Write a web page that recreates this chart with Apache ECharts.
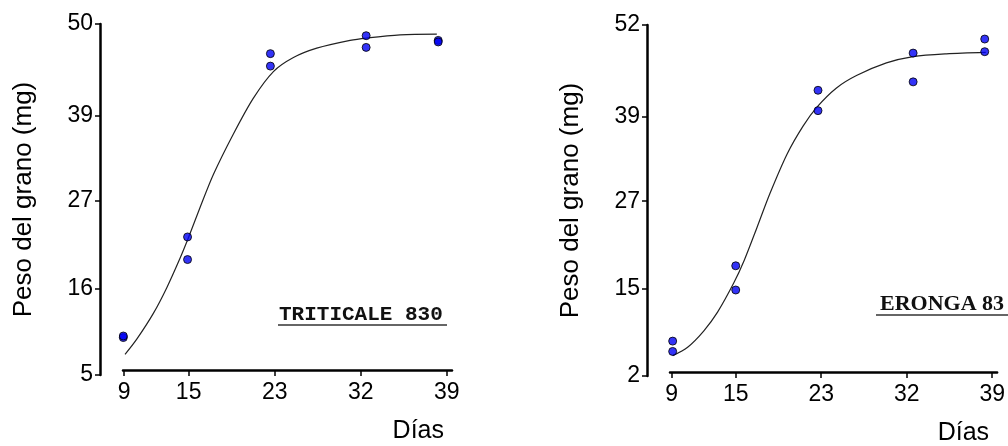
<!DOCTYPE html>
<html>
<head>
<meta charset="utf-8">
<script src="https://cdn.jsdelivr.net/npm/echarts@6/dist/echarts.min.js"></script>
<style>
html,body{margin:0;padding:0;background:#fff;}
#chart{width:1008px;height:446px;}
</style>
</head>
<body>
<div id="chart"></div>
<script>
// ---- data ----
const xTickValues = [9, 15, 23, 31, 39];
const xTickLabels = ['9', '15', '23', '32', '39'];

const tritYTickValues = [5, 16.1, 27.4, 38.2, 50];
const tritYTickLabels = ['5', '16', '27', '39', '50'];
const eronYTickValues = [2, 14.4, 26.9, 38.9, 52];
const eronYTickLabels = ['2', '15', '27', '39', '52'];

const tritDays = [8.93, 8.93, 14.9, 14.9, 22.6, 22.6, 31.5, 31.5, 38.2, 38.2];
const tritWeights = [9.8, 10.0, 22.7, 19.8, 46.2, 44.6, 48.5, 47.0, 47.9, 47.7];
const tritCurveDays = [9.09, 10.18, 11.72, 12.97, 14.21, 14.98, 16.07, 17.3, 19.16, 21.02, 22.88, 24.74, 26.91, 30.01, 31.56, 34.66, 38.07];
const tritCurveWeights = [7.65, 9.6, 12.9, 16.2, 20.0, 22.6, 26.5, 30.7, 35.9, 40.5, 43.9, 45.7, 46.9, 47.9, 48.2, 48.6, 48.7];

const eronDays = [9.1, 9.1, 15.0, 15.0, 22.7, 22.7, 31.6, 31.6, 38.3, 38.3];
const eronWeights = [6.97, 5.5, 17.7, 14.25, 42.7, 39.8, 48.0, 43.9, 50.0, 48.2];
const eronCurveDays = [9.1, 10.5, 12.0, 13.3, 14.8, 15.8, 17.0, 18.2, 19.8, 21.3, 22.6, 24.4, 26.3, 29.1, 31.6, 34.7, 38.4];
const eronCurveWeights = [4.9, 6.1, 8.4, 11.1, 15.2, 18.5, 23.2, 28.0, 33.6, 37.6, 40.3, 43.0, 44.8, 46.6, 47.5, 47.9, 48.1];

const yName = 'Peso del grano (mg)';
const xName = 'Días';
const labelTrit = 'TRITICALE 830';
const labelEron = 'ERONGA 83';

// ---- chart ----
const zip = (a, b) => a.map((v, i) => [v, b[i]]);
const labelFont = 'Liberation Sans, Arial, sans-serif';

function xAxisDef(gridIndex, min, max, offset) {
  return {
    type: 'value', gridIndex, min, max, offset,
    name: xName, nameLocation: 'end', nameGap: -8,
    nameTextStyle: {fontFamily: labelFont, fontSize: 25, color: '#000', align: 'right', verticalAlign: 'top', padding: [49, 0, 0, 0]},
    splitLine: {show: false},
    axisLine: {show: true, onZero: false, lineStyle: {color: '#000', width: 2.5}},
    axisTick: {show: true, customValues: xTickValues, length: 6, lineStyle: {color: '#000', width: 1.5}},
    axisLabel: {customValues: xTickValues, margin: 11, fontFamily: labelFont, fontSize: 23, color: '#000',
      formatter: v => xTickLabels[xTickValues.indexOf(v)]}
  };
}
function yAxisDef(gridIndex, min, max, tv, tl) {
  return {
    type: 'value', gridIndex, min, max, offset: 23,
    name: yName, nameLocation: 'middle', nameGap: 63,
    nameTextStyle: {fontFamily: labelFont, fontSize: 26, color: '#000'},
    splitLine: {show: false},
    axisLine: {show: true, onZero: false, lineStyle: {color: '#000', width: 2.5}},
    axisTick: {show: true, customValues: tv, length: 5, lineStyle: {color: '#000', width: 1.5}},
    axisLabel: {customValues: tv, margin: 7, fontFamily: labelFont, fontSize: 23, color: '#000',
      formatter: v => tl[tv.indexOf(v)]}
  };
}
const pointStyle = {color: '#0000f5', borderColor: '#000', borderWidth: 1};
const curveStyle = {color: '#222', width: 1.2};

const chart = echarts.init(document.getElementById('chart'), null, {renderer: 'canvas'});
chart.setOption({
  animation: false,
  backgroundColor: '#fff',
  grid: [
    {left: 123, top: 24, width: 329, height: 351},
    {left: 670, top: 25, width: 329, height: 352}
  ],
  xAxis: [
    xAxisDef(0, 8.9, 39.48, -5),
    xAxisDef(1, 8.85, 39.46, -4)
  ],
  yAxis: [
    yAxisDef(0, 5, 50, tritYTickValues, tritYTickLabels),
    yAxisDef(1, 2, 52, eronYTickValues, eronYTickLabels)
  ],
  series: [
    {type: 'line', xAxisIndex: 0, yAxisIndex: 0, data: zip(tritCurveDays, tritCurveWeights), smooth: 0.3, showSymbol: false, lineStyle: curveStyle, z: 2},
    {type: 'scatter', xAxisIndex: 0, yAxisIndex: 0, data: zip(tritDays, tritWeights), symbolSize: 8, itemStyle: pointStyle, z: 3},
    {type: 'line', xAxisIndex: 1, yAxisIndex: 1, data: zip(eronCurveDays, eronCurveWeights), smooth: 0.3, showSymbol: false, lineStyle: curveStyle, z: 2},
    {type: 'scatter', xAxisIndex: 1, yAxisIndex: 1, data: zip(eronDays, eronWeights), symbolSize: 8, itemStyle: pointStyle, z: 3}
  ],
  graphic: [
    {type: 'text', left: 279, top: 304, style: {text: labelTrit, font: 'bold 21px "Liberation Mono", "Courier New", monospace', fill: '#111'}},
    {type: 'line', shape: {x1: 278, y1: 325, x2: 447, y2: 325}, style: {stroke: '#333', lineWidth: 1.5}},
    {type: 'text', left: 880, top: 293, style: {text: labelEron, font: 'bold 22px "Liberation Serif", "Times New Roman", serif', fill: '#111'}},
    {type: 'line', shape: {x1: 876, y1: 315, x2: 1008, y2: 315}, style: {stroke: '#333', lineWidth: 1.5}}
  ]
});
</script>
</body>
</html>
